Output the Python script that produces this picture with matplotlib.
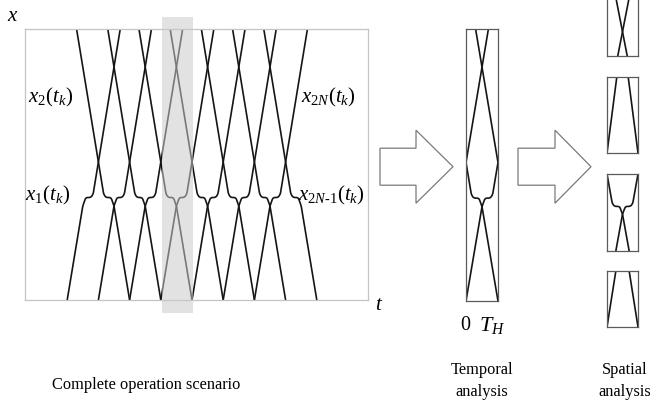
import numpy as np
import matplotlib
matplotlib.use("Agg")
import matplotlib.pyplot as plt
from matplotlib.patches import Rectangle, Polygon

plt.rcParams['font.family'] = ['Liberation Serif', 'DejaVu Serif']
plt.rcParams['mathtext.fontset'] = 'custom'
plt.rcParams['mathtext.rm'] = 'Liberation Serif'
plt.rcParams['mathtext.it'] = 'Liberation Serif:italic'
plt.rcParams['mathtext.bf'] = 'Liberation Serif:bold'

W, H, DPI = 654, 416, 100

# ---- trajectory data (t: time, x: position) ----
MID_CROSS_T = [73.4, 104.6, 135.8, 167.0, 198.2, 229.4, 260.6]  # where paired paths meet mid-way
HALF_PERIOD = 15.6          # time between the middle and the upper / lower meeting points
X_TOP = 271.0
X_UPPER_CROSS = 233.0
X_MID_CROSS = 138.0
X_KNEE = 106.0
X_WAIT = 102.5
X_LOW_CROSS = 94.0
X_BOTTOM = 0.0
WAIT_START, WAIT_END = 7.5, 12.6   # waiting interval, measured from the middle crossing
T_LIMITS = (0.0, 343.0)
HORIZON = (MID_CROSS_T[2], MID_CROSS_T[3])   # window [0, T_H]

# spatial sub-ranges of x shown on the right
SPATIAL_RANGES = [(203.9, 271.0), (138.0, 198.0), (53.6, 138.0), (0.0, 53.6)]

SCENARIO_LABELS = [r'$x_{\mathit{2}}(t_k)$', r'$x_{\mathit{1}}(t_k)$',
                   r'$x_{\mathit{2N}}(t_k)$', r'$x_{\mathit{2N}\text{-}\mathit{1}}(t_k)$']
CAPTIONS = ['Complete operation scenario', 'Temporal\nanalysis', 'Spatial\nanalysis']


def rounded(points, r=2.2, n=10):
    pts = np.asarray(points, float)
    out = [pts[0]]
    for i in range(1, len(pts) - 1):
        p0, p1, p2 = pts[i - 1], pts[i], pts[i + 1]
        d0, d1 = p1 - p0, p2 - p1
        l0, l1 = np.hypot(*d0), np.hypot(*d1)
        rr = min(r, l0 / 2, l1 / 2)
        a = p1 - d0 / l0 * rr
        b = p1 + d1 / l1 * rr
        s = np.linspace(0, 1, n)[:, None]
        out.extend((1 - s) ** 2 * a + 2 * (1 - s) * s * p1 + s ** 2 * b)
    out.append(pts[-1])
    return np.array(out)


def path_through(m, sign):
    """Path passing the middle crossing at time m; sign=+1 moves down in x as t grows."""
    up = HALF_PERIOD / (X_UPPER_CROSS - X_MID_CROSS)
    lo = HALF_PERIOD / (X_LOW_CROSS - X_BOTTOM)
    pts = [
        (m - sign * up * (X_TOP - X_MID_CROSS), X_TOP),
        (m, X_MID_CROSS),
        (m + sign * up * (X_MID_CROSS - X_KNEE), X_KNEE),
        (m + sign * WAIT_START, X_WAIT),
        (m + sign * WAIT_END, X_WAIT),
        (m + sign * HALF_PERIOD, X_LOW_CROSS),
        (m + sign * (HALF_PERIOD + lo * X_LOW_CROSS), X_BOTTOM),
    ]
    return rounded(pts)


def draw_paths(ax, lw=1.2):
    for m in MID_CROSS_T:
        for sign in (+1, -1):
            p = path_through(m, sign)
            ax.plot(p[:, 0], p[:, 1], color='#151515', lw=lw,
                    solid_capstyle='butt', zorder=2)


def px_axes(fig, x0, y0, x1, y1):
    return fig.add_axes([x0 / W, 1 - y1 / H, (x1 - x0) / W, (y1 - y0) / H])


def frame(ax, color, lw=0.9, hide_top=False):
    ax.set_xticks([]); ax.set_yticks([])
    for name, sp in ax.spines.items():
        sp.set_color(color)
        sp.set_linewidth(lw)
        if hide_top and name == 'top':
            sp.set_visible(False)
    ax.patch.set_alpha(0)


fig = plt.figure(figsize=(W / DPI, H / DPI), dpi=DPI)

# ---- complete operation scenario ----
ax = px_axes(fig, 25, 29, 368, 300)
draw_paths(ax)
ax.set_xlim(*T_LIMITS)
ax.set_ylim(X_BOTTOM, X_TOP)
frame(ax, '#c4c4c4', lw=0.9)
ax.add_patch(Rectangle((HORIZON[0] + 1.2, -13), HORIZON[1] - HORIZON[0], X_TOP + 25,
                       facecolor='#cbcbcb', edgecolor='none', alpha=0.55,
                       zorder=5, clip_on=False))

# ---- temporal analysis ----
axt = px_axes(fig, 466, 29, 498, 301)
draw_paths(axt)
axt.set_xlim(*HORIZON)
axt.set_ylim(X_BOTTOM, X_TOP)
frame(axt, '#5a5a5a')

# ---- spatial analysis ----
spatial_px = [(607, 0, 638, 56), (607, 77, 638, 153), (607, 174, 638, 251), (607, 271, 638, 327)]
for (x0, y0, x1, y1), (lo, hi) in zip(spatial_px, SPATIAL_RANGES):
    a = px_axes(fig, x0, y0, x1, y1)
    draw_paths(a)
    a.set_xlim(*HORIZON)
    a.set_ylim(lo, hi)
    frame(a, '#5a5a5a', hide_top=(y0 == 0))

# ---- overlay: arrows and text ----
ov = fig.add_axes([0, 0, 1, 1], zorder=10)
ov.set_xlim(0, W)
ov.set_ylim(H, 0)
ov.axis('off')
ov.patch.set_alpha(0)


def block_arrow(x_left, x_neck, x_tip, yc, body_half, head_half):
    verts = [(x_left, yc - body_half), (x_neck, yc - body_half), (x_neck, yc - head_half),
             (x_tip, yc), (x_neck, yc + head_half), (x_neck, yc + body_half),
             (x_left, yc + body_half)]
    ov.add_patch(Polygon(verts, closed=True, facecolor='white',
                         edgecolor='#7a7a7a', lw=0.9))


block_arrow(380, 416, 453, 166.7, 18.5, 36.5)
block_arrow(518, 555, 591, 166.7, 18.5, 36.5)

ov.text(12.5, 16.5, r'$x$', fontsize=15, ha='center', va='center')
ov.text(379.5, 306, r'$t$', fontsize=15, ha='center', va='center')
ov.text(465, 325, '0', fontsize=14.5, ha='center', va='center')
ov.text(492, 325, r'$T_H$', fontsize=16, ha='center', va='center')

for (x, y), s in zip([(50.5, 97), (47.5, 195), (328.5, 97), (331.5, 195)], SCENARIO_LABELS):
    ov.text(x, y, s, fontsize=15, ha='center', va='center')

ov.text(146, 385, CAPTIONS[0], fontsize=11.8, ha='center', va='center')
ov.text(482, 381, CAPTIONS[1], fontsize=11.8, ha='center', va='center', linespacing=1.45)
ov.text(625, 381, CAPTIONS[2], fontsize=11.8, ha='center', va='center', linespacing=1.45)

fig.savefig('out.png', dpi=DPI)
